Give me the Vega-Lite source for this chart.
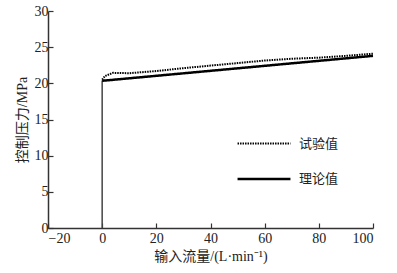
{
  "$schema": "https://vega.github.io/schema/vega-lite/v6.json",
  "autosize": "none",
  "width": 325,
  "height": 217,
  "padding": {"left": 48, "top": 11, "right": 24, "bottom": 45},
  "background": "white",
  "config": {
    "view": {"stroke": null},
    "font": "Liberation Serif",
    "axis": {
      "domainColor": "#333",
      "domainWidth": 1.5,
      "tickColor": "#333",
      "tickWidth": 1.2,
      "tickSize": -5,
      "grid": false,
      "labelOverlap": false,
      "labelFont": "Liberation Serif",
      "labelFontSize": 14,
      "labelColor": "#222",
      "titleFont": "Liberation Serif, Noto Sans CJK SC",
      "titleFontSize": 14,
      "titleFontWeight": "normal",
      "titleColor": "#222"
    }
  },
  "datasets": {
    "vert": [{"x": 0, "y0": 0, "y1": 20.4}],
    "lines": [
      {"series": "试验值", "x": 0, "y": 20.5},
      {"series": "试验值", "x": 1, "y": 21.0},
      {"series": "试验值", "x": 4, "y": 21.45},
      {"series": "试验值", "x": 10, "y": 21.4},
      {"series": "试验值", "x": 20, "y": 21.7},
      {"series": "试验值", "x": 30, "y": 22.1},
      {"series": "试验值", "x": 40, "y": 22.45},
      {"series": "试验值", "x": 50, "y": 22.8},
      {"series": "试验值", "x": 60, "y": 23.15},
      {"series": "试验值", "x": 70, "y": 23.4},
      {"series": "试验值", "x": 80, "y": 23.55},
      {"series": "试验值", "x": 90, "y": 23.8},
      {"series": "试验值", "x": 100, "y": 24.1},
      {"series": "理论值", "x": 0, "y": 20.35},
      {"series": "理论值", "x": 100, "y": 23.8}
    ]
  },
  "layer": [
    {
      "data": {"name": "vert"},
      "mark": {"type": "rule", "color": "#444", "strokeWidth": 1.5},
      "encoding": {
        "x": {
          "field": "x", "type": "quantitative",
          "scale": {"domain": [-20, 100], "nice": false},
          "axis": {"values": [-20, 0, 20, 40, 60, 80, 100], "title": "输入流量/(L·min⁻¹)", "labelPadding": 8, "titlePadding": 4, "labelOverlap": false}
        },
        "y": {
          "field": "y0", "type": "quantitative",
          "scale": {"domain": [0, 30], "nice": false},
          "axis": {"values": [0, 5, 10, 15, 20, 25, 30], "title": "控制压力/MPa", "labelPadding": 5, "titlePadding": 5, "labelOverlap": false}
        },
        "y2": {"field": "y1"}
      }
    },
    {
      "data": {"name": "lines"},
      "mark": {"type": "line", "color": "black"},
      "encoding": {
        "x": {
          "field": "x", "type": "quantitative",
          "scale": {"domain": [-20, 100], "nice": false},
          "axis": {"values": [-20, 0, 20, 40, 60, 80, 100], "title": "输入流量/(L·min⁻¹)", "labelPadding": 8, "titlePadding": 4, "labelOverlap": false}
        },
        "y": {
          "field": "y", "type": "quantitative",
          "scale": {"domain": [0, 30], "nice": false},
          "axis": {"values": [0, 5, 10, 15, 20, 25, 30], "title": "控制压力/MPa", "labelPadding": 5, "titlePadding": 5, "labelOverlap": false}
        },
        "strokeDash": {
          "field": "series", "type": "nominal",
          "scale": {"domain": ["试验值", "理论值"], "range": [[1.5, 1], [1, 0]]},
          "legend": {
            "orient": "none", "legendX": 188, "legendY": 105, "title": null,
            "symbolType": "stroke", "symbolSize": 2800, "symbolStrokeColor": "black",
            "labelFont": "Noto Sans CJK SC", "labelFontSize": 13, "labelColor": "#222",
            "rowPadding": -20, "labelOffset": 7
          }
        },
        "strokeWidth": {
          "field": "series", "type": "nominal",
          "scale": {"domain": ["试验值", "理论值"], "range": [2, 2.5]},
          "legend": null
        },
        "order": {"field": "x", "type": "quantitative"}
      }
    }
  ]
}
